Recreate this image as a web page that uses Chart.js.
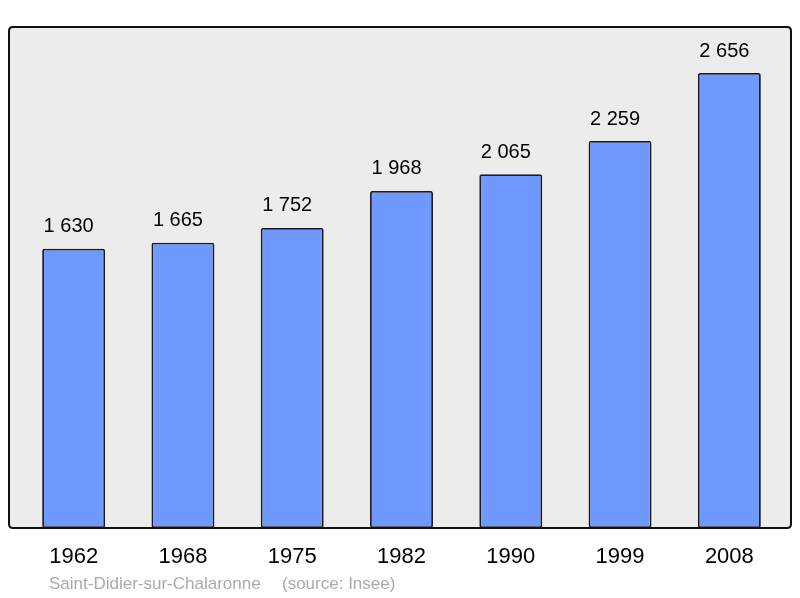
<!DOCTYPE html>
<html>
<head>
<meta charset="utf-8">
<script src="https://cdn.jsdelivr.net/npm/chart.js@4/dist/chart.umd.min.js"></script>
<style>
  html, body { margin: 0; padding: 0; background: #fff; }
  canvas { display: block; }
</style>
</head>
<body>
<canvas id="popChart" width="800" height="598"></canvas>
<script>
// Population figures
const years = ['1962', '1968', '1975', '1982', '1990', '1999', '2008'];
const population = [1630, 1665, 1752, 1968, 2065, 2259, 2656];
const townName = 'Saint-Didier-sur-Chalaronne';
const sourceNote = '(source: Insee)';

const FONT = '"Liberation Sans", Arial, sans-serif';

// space as thousands separator, like "1 630"
function fmt(n) {
  return String(n).replace(/\B(?=(\d{3})+(?!\d))/g, ' ');
}

function roundRect(ctx, x, y, w, h, r) {
  ctx.beginPath();
  ctx.moveTo(x + r, y);
  ctx.lineTo(x + w - r, y);
  ctx.quadraticCurveTo(x + w, y, x + w, y + r);
  ctx.lineTo(x + w, y + h - r);
  ctx.quadraticCurveTo(x + w, y + h, x + w - r, y + h);
  ctx.lineTo(x + r, y + h);
  ctx.quadraticCurveTo(x, y + h, x, y + h - r);
  ctx.lineTo(x, y + r);
  ctx.quadraticCurveTo(x, y, x + r, y);
  ctx.closePath();
}

// grey panel behind the bars, black frame on top
const framePlugin = {
  id: 'frame',
  beforeDatasetsDraw(chart) {
    const { ctx, chartArea: a } = chart;
    ctx.save();
    roundRect(ctx, a.left - 10, a.top, a.right - a.left + 17, a.bottom - a.top, 4);
    ctx.fillStyle = '#ececec';
    ctx.fill();
    ctx.restore();
  },
  afterDatasetsDraw(chart) {
    const { ctx, chartArea: a } = chart;
    ctx.save();
    roundRect(ctx, a.left - 10, a.top, a.right - a.left + 17, a.bottom - a.top, 4);
    ctx.lineWidth = 2;
    ctx.strokeStyle = '#111';
    ctx.stroke();

    // value labels above bars (sit a little left of the bar centre)
    ctx.fillStyle = '#000';
    ctx.font = '20px ' + FONT;
    ctx.textAlign = 'center';
    ctx.textBaseline = 'middle';
    chart.getDatasetMeta(0).data.forEach((bar, i) => {
      ctx.fillText(fmt(population[i]), bar.x - 5, bar.y - 22);
    });

    // footer
    ctx.fillStyle = '#aaaaaa';
    ctx.font = '17px ' + FONT;
    ctx.textAlign = 'left';
    ctx.fillText(townName, 49, 584);
    ctx.fillText(sourceNote, 282, 584);
    ctx.restore();
  }
};

new Chart(document.getElementById('popChart'), {
  type: 'bar',
  data: {
    labels: years,
    datasets: [{
      data: population,
      backgroundColor: '#7099ff',
      borderColor: '#1a1a1a',
      borderWidth: 1.8,
      borderRadius: 2,
      borderSkipped: false,
      categoryPercentage: 1,
      barPercentage: 0.576
    }]
  },
  options: {
    responsive: false,
    animation: false,
    layout: { padding: { left: 19, right: 16, top: 27, bottom: 0 } },
    plugins: {
      legend: { display: false },
      tooltip: { enabled: false }
    },
    scales: {
      x: {
        grid: { display: false, drawTicks: false },
        border: { display: false },
        ticks: { color: '#000', font: { family: FONT, size: 22 }, padding: 16 },
        afterFit(scale) { scale.height = 70; }
      },
      y: {
        display: false,
        min: 0,
        max: 2925
      }
    }
  },
  plugins: [framePlugin]
});
</script>
</body>
</html>
